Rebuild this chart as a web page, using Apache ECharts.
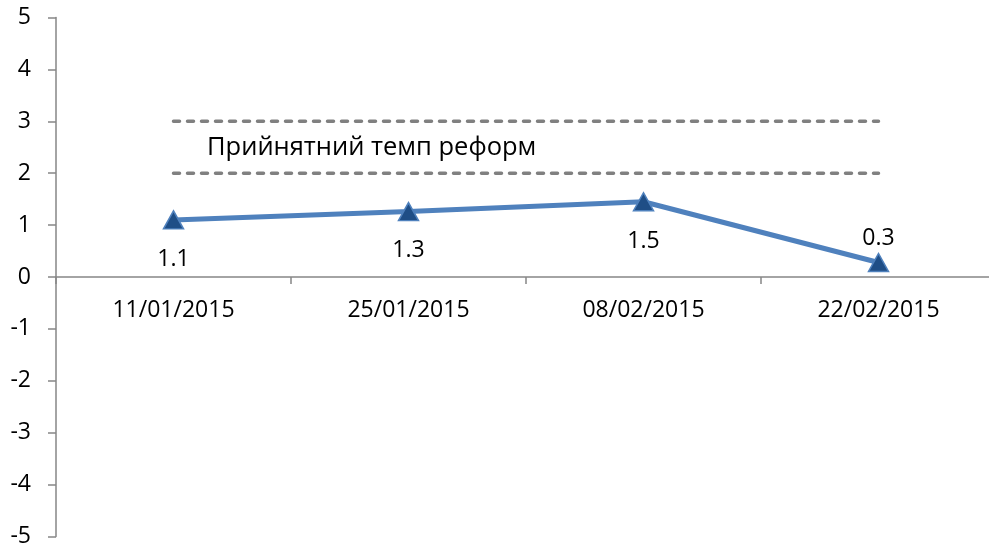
<!DOCTYPE html>
<html>
<head>
<meta charset="utf-8">
<script src="https://cdn.jsdelivr.net/npm/echarts@6/dist/echarts.min.js"></script>
<style>
  html, body { margin: 0; padding: 0; background: #fff; }
  #chart { width: 989px; height: 548px; }
</style>
</head>
<body>
<div id="chart"></div>
<script>
// dates on the x axis
const categories = ["11/01/2015", "25/01/2015", "08/02/2015", "22/02/2015"];
// reform pace index
const reformValues = [1.1, 1.26, 1.45, 0.28];
const pointLabels = ["1.1", "1.3", "1.5", "0.3"];
// "acceptable pace" corridor
const upperBound = [3, 3, 3, 3];
const lowerBound = [2, 2, 2, 2];
const bandTitle = "Прийнятний темп реформ";

const font = "'Open Sans', 'Noto Sans', sans-serif";
const axisGrey = "#868686";

const dashed = (name, data) => ({
  name: name,
  type: "line",
  data: data,
  symbol: "none",
  silent: true,
  z: 1,
  lineStyle: { color: "#808080", width: 3.5, type: [6, 8], cap: "round" }
});

const chart = echarts.init(document.getElementById("chart"));
chart.setOption({
  animation: false,
  backgroundColor: "#fff",
  title: {
    text: bandTitle,
    left: 207,
    top: 135,
    padding: 0,
    textStyle: { fontFamily: font, fontSize: 25.5, fontWeight: "normal", color: "#000" }
  },
  grid: { left: 56, top: 17.5, width: 940, height: 519, outerBoundsMode: "none", containLabel: false },
  xAxis: {
    type: "category",
    data: categories,
    boundaryGap: true,
    // keep the axis on the zero line
    axisLine: { onZero: false, lineStyle: { color: axisGrey, width: 1.5 } },
    offset: -259.5,
    axisTick: { show: true, length: 7, lineStyle: { color: axisGrey, width: 1.5 } },
    axisLabel: { margin: 22, fontFamily: font, fontSize: 23, color: "#000" },
    splitLine: { show: false }
  },
  yAxis: {
    type: "value",
    min: -5,
    max: 5,
    interval: 1,
    axisLine: { show: true, lineStyle: { color: axisGrey, width: 1.5 } },
    axisTick: { show: true, length: 8, lineStyle: { color: axisGrey, width: 1.5 } },
    axisLabel: { margin: 25, fontFamily: font, fontSize: 23, color: "#000" },
    splitLine: { show: false }
  },
  series: [
    dashed("upper", upperBound),
    dashed("lower", lowerBound),
    {
      name: "reform",
      type: "line",
      z: 3,
      data: reformValues.map((v, i) => ({
        value: v,
        label: i === reformValues.length - 1 ? { position: "top", distance: 3 } : {}
      })),
      symbol: "triangle",
      symbolSize: [20, 18],
      lineStyle: { color: "#4F81BD", width: 5 },
      itemStyle: { color: "#1F4E86", borderColor: "#4F81BD", borderWidth: 1.5 },
      label: {
        show: true,
        position: "bottom",
        distance: 18,
        fontFamily: font,
        fontSize: 23,
        color: "#000",
        formatter: p => pointLabels[p.dataIndex]
      }
    }
  ]
});
</script>
</body>
</html>
